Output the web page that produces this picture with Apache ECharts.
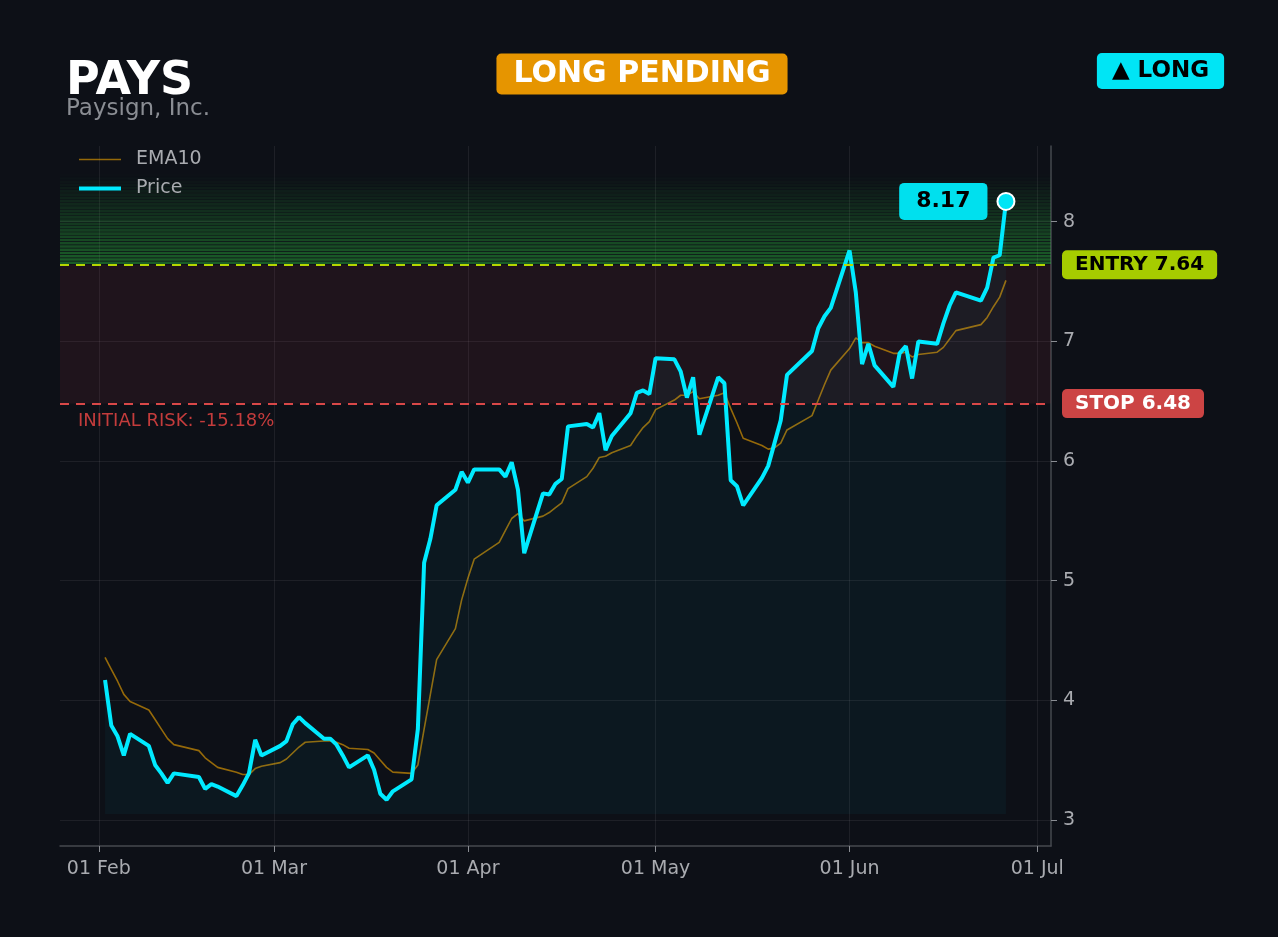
<!DOCTYPE html>
<html><head><meta charset="utf-8">
<script src="https://cdn.jsdelivr.net/npm/echarts@6/dist/echarts.min.js"></script>
<style>html,body{margin:0;padding:0;background:#0d1017;}#c{width:1278px;height:937px;}</style>
</head><body><div id="c"></div>
<script>
const dates = [
'2026-02-02','2026-02-03','2026-02-04','2026-02-05','2026-02-06','2026-02-09','2026-02-10','2026-02-11','2026-02-12','2026-02-13',
'2026-02-17','2026-02-18','2026-02-19','2026-02-20','2026-02-23','2026-02-24','2026-02-25','2026-02-26','2026-02-27',
'2026-03-02','2026-03-03','2026-03-04','2026-03-05','2026-03-06','2026-03-09','2026-03-10','2026-03-11','2026-03-12','2026-03-13',
'2026-03-16','2026-03-17','2026-03-18','2026-03-19','2026-03-20','2026-03-23','2026-03-24','2026-03-25','2026-03-26','2026-03-27',
'2026-03-30','2026-03-31',
'2026-04-01','2026-04-02','2026-04-06','2026-04-07','2026-04-08','2026-04-09','2026-04-10','2026-04-13','2026-04-14','2026-04-15',
'2026-04-16','2026-04-17','2026-04-20','2026-04-21','2026-04-22','2026-04-23','2026-04-24','2026-04-27','2026-04-28','2026-04-29','2026-04-30',
'2026-05-01','2026-05-04','2026-05-05','2026-05-06','2026-05-07','2026-05-08','2026-05-11','2026-05-12','2026-05-13','2026-05-14',
'2026-05-15','2026-05-18','2026-05-19','2026-05-20','2026-05-21','2026-05-22','2026-05-26','2026-05-27','2026-05-28','2026-05-29',
'2026-06-01','2026-06-02','2026-06-03','2026-06-04','2026-06-05','2026-06-08','2026-06-09','2026-06-10','2026-06-11','2026-06-12',
'2026-06-15','2026-06-16','2026-06-17','2026-06-18','2026-06-22','2026-06-23','2026-06-24','2026-06-25','2026-06-26'
];
const price = [
4.17,3.79,3.70,3.54,3.72,3.62,3.46,3.39,3.31,3.39,
3.36,3.26,3.30,3.28,3.20,3.29,3.39,3.67,3.54,
3.62,3.66,3.80,3.86,3.81,3.68,3.68,3.63,3.54,3.44,
3.54,3.42,3.22,3.17,3.24,3.34,3.76,5.15,5.35,5.63,
5.76,5.91,
5.82,5.93,5.93,5.87,5.99,5.76,5.23,5.73,5.72,5.81,
5.85,6.29,6.31,6.28,6.40,6.09,6.21,6.40,6.57,6.59,6.56,
6.86,6.85,6.75,6.53,6.70,6.22,6.70,6.65,5.84,5.79,
5.63,5.86,5.96,6.15,6.34,6.72,6.92,7.11,7.21,7.28,
7.76,7.41,6.81,6.98,6.80,6.62,6.90,6.96,6.69,7.00,
6.98,7.15,7.30,7.41,7.34,7.45,7.70,7.72,8.17
];
const ema10 = [
4.36,4.26,4.16,4.05,3.99,3.92,3.84,3.76,3.68,3.63,
3.58,3.52,3.48,3.44,3.40,3.38,3.38,3.43,3.45,
3.48,3.51,3.56,3.61,3.65,3.66,3.66,3.65,3.63,3.60,
3.59,3.56,3.50,3.44,3.40,3.39,3.46,3.76,4.05,4.34,
4.60,4.84,
5.02,5.18,5.32,5.42,5.52,5.56,5.50,5.54,5.57,5.61,
5.65,5.77,5.87,5.94,6.03,6.04,6.07,6.13,6.21,6.28,6.33,
6.43,6.51,6.55,6.55,6.58,6.52,6.55,6.57,6.44,6.32,
6.19,6.13,6.10,6.11,6.15,6.26,6.38,6.51,6.64,6.76,
6.94,7.03,6.99,6.99,6.96,6.90,6.90,6.91,6.87,6.89,
6.91,6.95,7.02,7.09,7.14,7.20,7.29,7.37,7.51
];
const entryPrice = 7.64;
const stopPrice = 6.48;
const riskPct = -15.18;
const targetTop = 8.40;
const areaBase = 3.05;
const yTicks = [3, 4, 5, 6, 7, 8];
const monthTicks = ['2026-02-01','2026-03-01','2026-04-01','2026-05-01','2026-06-01','2026-07-01'];
const monthNames = ['Jan','Feb','Mar','Apr','May','Jun','Jul','Aug','Sep','Oct','Nov','Dec'];

const DAY = 86400000;
const ts = dates.map(d => Date.parse(d));
const monthTs = monthTicks.map(d => Date.parse(d));
const xMin = ts[0] - 7.2 * DAY;
const xMax = ts[ts.length - 1] + 7.2 * DAY;
const priceData = ts.map((t, i) => [t, price[i]]);
const emaData = ts.map((t, i) => [t, ema10[i]]);
const last = price.length - 1;

const bands = [];
const N = 28;
const step = (targetTop - entryPrice) / N;
for (let i = 0; i < N; i++) {
  const lo = entryPrice + i * step;
  const a = 0.42 * Math.pow(1 - i / N, 1.1);
  bands.push([{ yAxis: lo + step * 0.22, itemStyle: { color: 'rgba(46,200,64,' + a.toFixed(3) + ')' } }, { yAxis: lo + step }]);
}
bands.push([{ yAxis: stopPrice, itemStyle: { color: 'rgba(200,60,80,0.10)' } }, { yAxis: entryPrice }]);

const FONT = 'DejaVu Sans';
const chart = echarts.init(document.getElementById('c'), null, { renderer: 'canvas' });
chart.setOption({
  backgroundColor: '#0d1017',
  animation: false,
  textStyle: { fontFamily: FONT },
  grid: { left: 60, right: 227, top: 146, bottom: 91 },
  title: {
    text: 'PAYS', subtext: 'Paysign, Inc.', left: 61, top: 54, itemGap: -7,
    textStyle: { color: '#ffffff', fontSize: 46, fontWeight: 'bold', fontFamily: FONT },
    subtextStyle: { color: '#8a8d93', fontSize: 23, fontFamily: FONT }
  },
  legend: {
    orient: 'vertical', left: 72, top: 145, itemGap: 10, itemWidth: 42, itemHeight: 12,
    itemStyle: { opacity: 0 },
    textStyle: { color: '#a9abb0', fontSize: 19, fontFamily: FONT, padding: [0, 0, 0, 10] },
    data: [
      { name: 'EMA10', lineStyle: { width: 1.6 } },
      { name: 'Price', lineStyle: { width: 4 } }
    ]
  },
  graphic: [
    { type: 'text', x: 642, y: 74, z: 100,
      style: { text: 'LONG PENDING', fill: '#ffffff', font: 'bold 30px "DejaVu Sans"', align: 'center', verticalAlign: 'middle',
        backgroundColor: '#e69500', padding: [6, 17, 5, 17], borderRadius: 5 } },
    { type: 'text', x: 1160.5, y: 71, z: 100,
      style: { text: '\u25B2 LONG', fill: '#000000', font: 'bold 23px "DejaVu Sans"', align: 'center', verticalAlign: 'middle',
        backgroundColor: '#00e5f5', padding: [7, 15, 6, 15], borderRadius: 5 } }
  ],
  xAxis: {
    type: 'value', min: xMin, max: xMax,
    axisLine: { show: true, lineStyle: { color: '#45484f', width: 1.5 } },
    axisTick: { show: true, length: 6, lineStyle: { color: '#8a8d93' }, customValues: monthTs },
    axisLabel: { color: '#a9abb0', fontSize: 19, margin: 14, fontFamily: FONT, customValues: monthTs,
      formatter: v => { const d = new Date(v); return String(d.getUTCDate()).padStart(2, '0') + ' ' + monthNames[d.getUTCMonth()]; } },
    splitLine: { show: true, lineStyle: { color: 'rgba(255,255,255,0.07)', width: 1 } }
  },
  yAxis: {
    type: 'value', position: 'right', min: 2.783, max: 8.633,
    axisLine: { show: true, lineStyle: { color: '#45484f', width: 1.5 } },
    axisTick: { show: true, length: 6, lineStyle: { color: '#8a8d93' }, customValues: yTicks },
    axisLabel: { color: '#a9abb0', fontSize: 19, margin: 12, fontFamily: FONT, customValues: yTicks },
    splitLine: { show: true, lineStyle: { color: 'rgba(255,255,255,0.07)', width: 1 } }
  },
  series: [
    {
      name: 'EMA10', type: 'line', data: emaData, showSymbol: false, symbol: 'none', z: 3,
      lineStyle: { color: 'rgba(240,165,0,0.6)', width: 1.6 },
      itemStyle: { color: 'rgba(240,165,0,0.6)' }
    },
    {
      name: 'Price', type: 'line', data: priceData, showSymbol: false, symbol: 'none', z: 4,
      lineStyle: { color: '#00eaff', width: 4 },
      itemStyle: { color: '#00eaff' },
      areaStyle: { color: 'rgba(0,229,255,0.055)', origin: areaBase },
      markArea: { silent: true, data: bands },
      markLine: {
        silent: true, symbol: 'none',
        data: [
          { yAxis: entryPrice, lineStyle: { color: '#b5d600', type: [9, 7], width: 2.2 },
            label: { show: true, position: 'end', distance: 11, formatter: 'ENTRY ' + entryPrice.toFixed(2),
              color: '#000', fontWeight: 'bold', fontSize: 20, fontFamily: FONT, backgroundColor: '#a6cc00',
              padding: [5, 13, 4, 13], borderRadius: 5 } },
          { yAxis: stopPrice, lineStyle: { color: '#d94848', type: [9, 7], width: 2.2 },
            label: { show: true, position: 'end', distance: 11, formatter: 'STOP ' + stopPrice.toFixed(2),
              color: '#fff', fontWeight: 'bold', fontSize: 20, fontFamily: FONT, backgroundColor: '#cc4444',
              padding: [5, 13, 4, 13], borderRadius: 5 } },
          { yAxis: stopPrice, lineStyle: { color: 'rgba(0,0,0,0)', width: 1 },
            label: { show: true, position: 'insideStartBottom', distance: 9, formatter: 'INITIAL RISK: ' + riskPct.toFixed(2) + '%',
              color: '#c43c3c', fontSize: 18, fontFamily: FONT, padding: [0, 0, 0, 9] } }
        ]
      },
      markPoint: {
        silent: true,
        data: [{ coord: [ts[last], price[last]], value: price[last], symbol: 'circle', symbolSize: 17,
          itemStyle: { color: '#00e5f5', borderColor: '#ffffff', borderWidth: 2 },
          label: { show: true, position: 'left', distance: 9, formatter: price[last].toFixed(2),
            color: '#000', fontWeight: 'bold', fontSize: 22, fontFamily: FONT, backgroundColor: '#00e0ee',
            padding: [8, 17, 7, 17], borderRadius: 5 } }]
      }
    }
  ]
});
</script></body></html>
